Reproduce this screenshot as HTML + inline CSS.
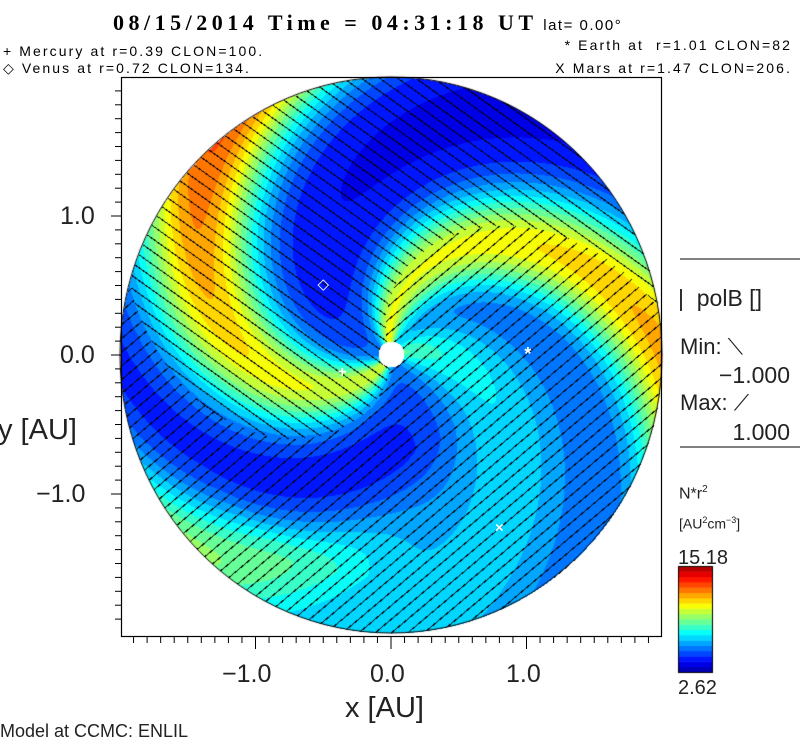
<!DOCTYPE html>
<html><head><meta charset="utf-8">
<style>
body{margin:0;background:#fff;width:800px;height:746px;overflow:hidden;position:relative;font-family:"Liberation Sans",sans-serif;color:#000}
.t{position:absolute;white-space:pre;line-height:1}
.leg{font-size:14px;letter-spacing:2.1px}
canvas{position:absolute;left:0;top:0}
</style></head><body>
<canvas id="cv" width="800" height="746"></canvas>
<svg id="ax" width="800" height="746" style="position:absolute;left:0;top:0"></svg>
<div class="t" style="left:113px;top:10px;font:bold 22px 'Liberation Serif',serif;letter-spacing:4.5px">08/15/2014 Time = 04:31:18 UT<span style="font:15px 'Liberation Sans',sans-serif;letter-spacing:1.5px"> lat= 0.00°</span></div>
<div class="t leg" style="left:3px;top:44px">+ Mercury at r=0.39 CLON=100.</div>
<div class="t leg" style="left:3px;top:61px">◇ Venus at r=0.72 CLON=134.</div>
<div class="t leg" style="right:8px;top:38px">* Earth at  r=1.01 CLON=82</div>
<div class="t leg" style="right:8px;top:61px">X Mars at r=1.47 CLON=206.</div>
<div class="t" style="left:222px;top:662px;font-size:25px;color:#222">−1.0</div>
<div class="t" style="left:370px;top:662px;font-size:25px;color:#222">0.0</div>
<div class="t" style="left:506px;top:662px;font-size:25px;color:#222">1.0</div>
<div class="t" style="left:345px;top:694px;font-size:29px;color:#222">x [AU]</div>
<div class="t" style="left:60px;top:204px;font-size:25px;color:#222">1.0</div>
<div class="t" style="left:60px;top:343px;font-size:25px;color:#222">0.0</div>
<div class="t" style="left:36px;top:482px;font-size:25px;color:#222">−1.0</div>
<div class="t" style="left:-2px;top:416px;font-size:29px;color:#222">y [AU]</div>
<div class="t" style="left:0px;top:722px;font-size:18px;color:#222">Model at CCMC: ENLIL</div>
<div class="t" style="left:678px;top:287px;font-size:23px;color:#222">|  polB []</div>
<div class="t" style="left:680px;top:336px;font-size:22px;color:#222">Min: ⟍</div>
<div class="t" style="right:10px;top:364px;font-size:23px;color:#222">−1.000</div>
<div class="t" style="left:680px;top:392px;font-size:22px;color:#222">Max: ⟋</div>
<div class="t" style="right:10px;top:421px;font-size:23px;color:#222">1.000</div>
<div class="t" style="left:679px;top:485px;font-size:16px;color:#222">N*r<sup style="font-size:10px">2</sup></div>
<div class="t" style="left:679px;top:516px;font-size:14px;color:#222">[AU<sup style="font-size:9px">2</sup>cm<sup style="font-size:9px">−3</sup>]</div>
<div class="t" style="left:678px;top:548px;font-size:20px;color:#222">15.18</div>
<div class="t" style="left:678px;top:678px;font-size:20px;color:#222">2.62</div>
<script>
// ---- data ----
const armPhase=[4.07,1.82,5.67,0.35];      // spiral phase of each density arm (rad)
const armBase=[4.5,5.0,0,3.0];              // arm amplitude at r=0
const armGrowth=[2.3,1.5,4.5,0];            // amplitude growth per AU
const armWidth=[0.36,0.32,0.3,0.5];
const sectorStart=[1.97];                   // polarity boundary phases
const sectorEnd=[4.68];
const planetNames=['mercury','venus','earth','mars'];
const planetX=[-0.36,-0.50,1.01,0.80];
const planetY=[-0.12,0.51,0.0,-1.24];
const planetMarks=['+','◇','*','×'];
const vMin=2.62, vMax=15.18;

const CX=391,CY=355,SX=135.5,SY=139,RMAX=2;
const px=x=>CX+x*SX, py=y=>CY-y*SY;
const K=0.9;
function jet(f){
  f=Math.max(0,Math.min(1,f));
  const r=Math.max(0,Math.min(1,1.5-Math.abs(4*f-3)));
  const g=Math.max(0,Math.min(1,1.5-Math.abs(4*f-2)));
  const b=Math.max(0,Math.min(1,1.5-Math.abs(4*f-1)));
  return [r*255|0,g*255|0,b*255|0];
}
function wrap(a){a%= (2*Math.PI);if(a>Math.PI)a-=2*Math.PI;if(a<-Math.PI)a+=2*Math.PI;return a;}
function density(r,th){
  const psi=th+K*r;
  let v=3.6+2.2*Math.exp(-r/0.5);
  for(let i=0;i<armPhase.length;i++){
    let A=armBase[i]+armGrowth[i]*r;
    if(i===2)A=A*Math.max(0,Math.min(1,(r-0.7)/0.9))*0.55;
    const d=wrap(psi-armPhase[i]);
    v+=A*Math.exp(-0.5*(d/armWidth[i])**2);
  }
  return v;
}
const cv=document.getElementById('cv'),ctx=cv.getContext('2d');
const img=ctx.createImageData(800,746);
const NL=20;
for(let Y=70;Y<645;Y++)for(let X=115;X<670;X++){
  const x=(X-CX)/SX,y=(CY-Y)/SY,r=Math.hypot(x,y);
  if(r>RMAX)continue;
  const i=(Y*800+X)*4;
  const dsun=Math.hypot(X-391,Y-354);
  if(dsun<13){img.data[i]=img.data[i+1]=img.data[i+2]=255;img.data[i+3]=255;continue;}
  const th=Math.atan2(y,x);
  const f=(density(r,th)-vMin)/(vMax-vMin);
  const q=(Math.floor(Math.min(0.999,Math.max(0,f))*NL)+0.5)/NL;
  let c=jet(q*0.94+0.03);
  let psi=(th+K*r)%(2*Math.PI);if(psi<0)psi+=2*Math.PI;
  const neg=psi>sectorStart[0]&&psi<sectorEnd[0];
  const a=neg?0.62:-0.70;
  const d=-X*Math.sin(a)+Y*Math.cos(a);
  const m=((d%10.5)+10.5)%10.5;
  if(m<1.0)c=[0,0,0];
  img.data[i]=c[0];img.data[i+1]=c[1];img.data[i+2]=c[2];img.data[i+3]=255;
}
ctx.putImageData(img,0,0);
ctx.strokeStyle='#000';ctx.lineWidth=1;ctx.beginPath();ctx.ellipse(CX,CY,SX*2,SY*2,0,0,2*Math.PI);ctx.stroke();
for(let k=0;k<NL;k++){
  const c=jet(((k+0.5)/NL)*0.94+0.03);
  ctx.fillStyle=`rgb(${c[0]},${c[1]},${c[2]})`;
  const h=106/NL;ctx.fillRect(679,672-(k+1)*h,33,h+0.5);
}
ctx.strokeRect(678.5,566.5,34,106);

const NS='http://www.w3.org/2000/svg';
const svg=document.getElementById('ax');
function add(tag,at,name){const e=document.createElementNS(NS,tag);for(const k in at)e.setAttribute(k,at[k]);


svg.appendChild(e);return e;}
add('rect',{x:121.5,y:77.5,width:540,height:559,fill:'none',stroke:'#000','stroke-width':1.2},'plot-frame');
for(let t=-19;t<=19;t++){
  const v=t/10,major=(t%10===0);
  const X=px(v);
  if(X>122&&X<661){
    add('line',{x1:X,y1:637,x2:X,y2:637+(major?12:6),stroke:'#000'},'x-tick');
  }
  const Yp=py(v);
  if(Yp>78&&Yp<636){
    add('line',{x1:121,y1:Yp,x2:121-(major?10:6),y2:Yp,stroke:'#000'},'y-tick');
  }
}
add('line',{x1:680,y1:259,x2:800,y2:259,stroke:'#000'},'panel-divider-top');
add('line',{x1:680,y1:447,x2:800,y2:447,stroke:'#000'},'panel-divider-bottom');
for(let i=0;i<planetNames.length;i++){
  const t=add('text',{x:px(planetX[i]),y:py(planetY[i])+5,'text-anchor':'middle',fill:'#fff','font-size':planetMarks[i]==='*'?18:15,'font-weight':'bold','font-family':'Liberation Sans, DejaVu Sans, sans-serif'},'planet-'+planetNames[i]);
  t.textContent=planetMarks[i];
}
</script>
</body></html>
